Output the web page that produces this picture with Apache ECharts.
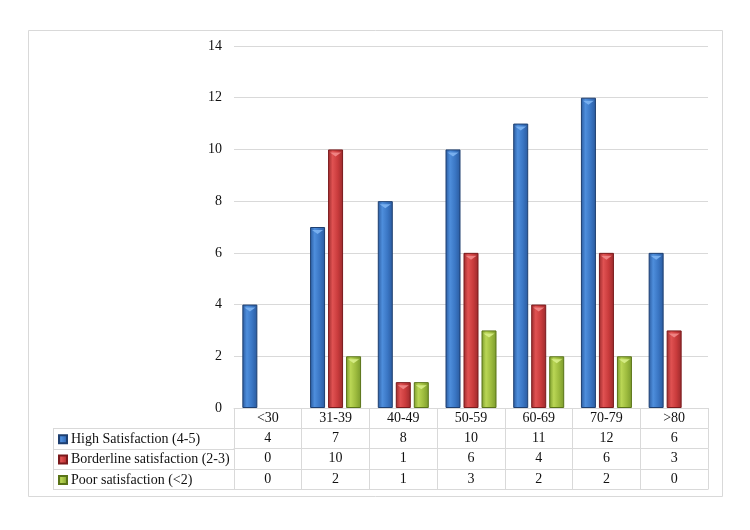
<!DOCTYPE html>
<html><head><meta charset="utf-8">
<script src="https://cdn.jsdelivr.net/npm/echarts@6/dist/echarts.min.js"></script>
<style>html,body{margin:0;padding:0;background:#fff}#c{width:750px;height:530px}</style>
</head><body><div id="c"></div>
<script>
const categories = ['<30', '31-39', '40-49', '50-59', '60-69', '70-79', '>80'];
const seriesNames = ['High Satisfaction (4-5)', 'Borderline satisfaction (2-3)', 'Poor satisfaction (<2)'];
const highValues = [4, 7, 8, 10, 11, 12, 6];
const borderlineValues = [0, 10, 1, 6, 4, 6, 3];
const poorValues = [0, 2, 1, 3, 2, 2, 0];
const yAxisMin = 0, yAxisMax = 14, yAxisStep = 2;

const FONT = 'Liberation Serif';
const TXT = '#111';
const LINE = '#d9d9d9';
const G = { left: 234, right: 708, top: 46, bottom: 408 };
const ROW = 20.3;
const LABEL_LEFT = 53;

function grad(dark, light, mid) {
  return new echarts.graphic.LinearGradient(0, 0, 1, 0, [
    { offset: 0, color: dark },
    { offset: 0.3, color: light },
    { offset: 0.65, color: mid },
    { offset: 1, color: dark }
  ]);
}
const palette = [
  { fill: grad('#2A5A9E', '#4E8EDC', '#3A76C4'), border: '#1E3F70', cap: '#7DB4F2' },
  { fill: grad('#9A2A2C', '#E05252', '#C93B3C'), border: '#7A1A1C', cap: '#F28A8A' },
  { fill: grad('#7A9A2C', '#BAD655', '#9DBB3E'), border: '#5A7418', cap: '#D8EE8A' }
];
const values = [highValues, borderlineValues, poorValues];

const xAxes = [];
const tableRows = [categories].concat(values.map(v => v.map(String)));
tableRows.forEach((row, i) => {
  xAxes.push({
    type: 'category', data: row, position: 'bottom', offset: i * ROW,
    axisLine: { show: true, lineStyle: { color: LINE, width: 1 } },
    axisTick: { show: true, alignWithLabel: false, length: ROW, inside: false, lineStyle: { color: LINE } },
    axisLabel: { show: true, interval: 0, margin: 3, fontFamily: FONT, fontSize: 14, color: TXT },
    splitLine: { show: false }
  });
});
xAxes.push({
  type: 'category', data: categories, position: 'bottom', offset: 4 * ROW,
  axisLine: { show: true, lineStyle: { color: LINE } },
  axisTick: { show: false }, axisLabel: { show: false }
});

const legends = seriesNames.map((n, i) => ({
  data: [n], orient: 'vertical', left: 58, top: G.bottom + (i + 1) * ROW + 4, padding: 0,
  itemWidth: 8, itemHeight: 8, itemGap: 0, selectedMode: false, icon: 'rect',
  textStyle: { fontFamily: FONT, fontSize: 14, color: TXT, padding: [0, 0, 0, -1] }
}));

const tableLines = [];
for (let r = 1; r <= 4; r++) {
  const y = Math.round(G.bottom + r * ROW) + 0.5;
  tableLines.push({ type: 'line', shape: { x1: LABEL_LEFT, y1: y, x2: G.left, y2: y }, style: { stroke: LINE, lineWidth: 1 } });
}
tableLines.push({ type: 'line', shape: { x1: LABEL_LEFT + 0.5, y1: Math.round(G.bottom + ROW) + 0.5, x2: LABEL_LEFT + 0.5, y2: Math.round(G.bottom + 4 * ROW) + 0.5 }, style: { stroke: LINE, lineWidth: 1 } });
tableLines.push({ type: 'rect', shape: { x: 28.5, y: 30.5, width: 694, height: 466 }, style: { fill: null, stroke: LINE, lineWidth: 1 } });

const barSeries = values.map((v, i) => ({
  name: seriesNames[i], type: 'bar', xAxisIndex: 0,
  data: v.map(x => ({ value: x, itemStyle: x === 0 ? { borderWidth: 0 } : undefined })),
  barWidth: 15, barGap: '20%',
  itemStyle: { color: palette[i].fill, borderColor: palette[i].border, borderWidth: 1 }
}));
const capSeries = values.map((v, i) => ({
  name: seriesNames[i] + ' cap', type: 'pictorialBar', xAxisIndex: 0,
  data: v.map(x => ({ value: x, symbolSize: x === 0 ? 0 : [11, 4] })),
  barWidth: 15, barGap: '20%', z: 3,
  symbol: 'triangle', symbolRotate: 180, symbolPosition: 'end', symbolOffset: [0, 3],
  itemStyle: { color: palette[i].cap, opacity: 0.9 }, silent: true
}));

const chart = echarts.init(document.getElementById('c'), null, { renderer: 'canvas' });
chart.setOption({
  animation: false,
  backgroundColor: '#fff',
  grid: { left: G.left, right: 750 - G.right, top: G.top, bottom: 530 - G.bottom, containLabel: false },
  legend: legends,
  xAxis: xAxes,
  yAxis: {
    type: 'value', min: yAxisMin, max: yAxisMax, interval: yAxisStep,
    axisLine: { show: false }, axisTick: { show: false },
    axisLabel: { margin: 12, fontFamily: FONT, fontSize: 14, color: TXT },
    splitLine: { lineStyle: { color: LINE, width: 1 } }
  },
  series: barSeries.concat(capSeries),
  graphic: tableLines
});
</script></body></html>
